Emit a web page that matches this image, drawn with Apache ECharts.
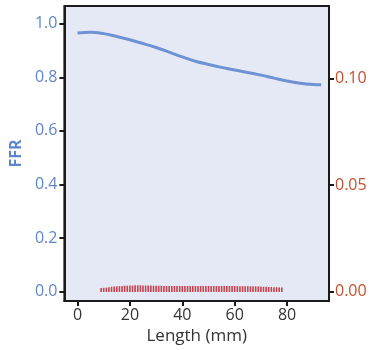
<!DOCTYPE html>
<html><head><meta charset="utf-8">
<script src="https://cdn.jsdelivr.net/npm/echarts@6/dist/echarts.min.js"></script>
<style>html,body{margin:0;padding:0;background:#fff}#c{width:377px;height:350px}</style>
</head><body><div id="c"></div>
<script>
const ffrX = [0,5,10,15,20,25,30,35,40,45,50,55,60,65,70,75,80,85,90,93];
const ffrY = [0.965,0.968,0.963,0.952,0.940,0.926,0.911,0.894,0.876,0.860,0.848,0.837,0.827,0.818,0.808,0.797,0.786,0.778,0.773,0.772];
const barX = [9,10,11,12,13,14,15,16,17,18,19,20,21,22,23,24,25,26,27,28,29,30,31,32,33,34,35,36,37,38,39,40,41,42,43,44,45,46,47,48,49,50,51,52,53,54,55,56,57,58,59,60,61,62,63,64,65,66,67,68,69,70,71,72,73,74,75,76,77,78];
const barY = [0.0018,0.0019,0.0020,0.0022,0.0024,0.0025,0.0026,0.0027,0.0028,0.0029,0.0029,0.0030,0.0030,0.0031,0.0031,0.0031,0.0030,0.0030,0.0030,0.0030,0.0029,0.0029,0.0029,0.0029,0.0028,0.0028,0.0028,0.0028,0.0028,0.0028,0.0028,0.0028,0.0028,0.0028,0.0028,0.0028,0.0028,0.0028,0.0028,0.0028,0.0028,0.0028,0.0028,0.0028,0.0028,0.0028,0.0028,0.0028,0.0028,0.0028,0.0028,0.0028,0.0027,0.0027,0.0027,0.0027,0.0027,0.0026,0.0026,0.0026,0.0026,0.0025,0.0024,0.0024,0.0023,0.0023,0.0022,0.0022,0.0021,0.0021];
const xTicks = [0,20,40,60,80];
const ffrTicks = [0,0.2,0.4,0.6,0.8,1.0];
const rTicks = [0,0.05,0.10];

const chart = echarts.init(document.getElementById('c'));
const font = 'Open Sans';
chart.setOption({
  animation:false,
  grid:{left:59,right:48,top:6,bottom:42,show:true,backgroundColor:'#e5e9f6',borderWidth:2,borderColor:'#1a1a1a'},
  xAxis:{type:'value',min:-5,max:96,
    name:'Length (mm)',nameLocation:'middle',nameGap:26,
    nameTextStyle:{color:'#333',fontSize:17,fontWeight:500,fontFamily:font},
    axisLine:{show:true,onZero:false,lineStyle:{color:'#1a1a1a',width:2}},
    axisTick:{show:true,customValues:xTicks,length:5,lineStyle:{color:'#1a1a1a',width:2}},
    axisLabel:{customValues:xTicks,color:'#333',fontSize:16,fontWeight:500,fontFamily:font,margin:6},
    splitLine:{show:false}},
  yAxis:[
    {type:'value',min:-0.035,max:1.066,position:'left',
      name:'FFR',nameLocation:'middle',nameGap:40,nameRotate:90,
      nameTextStyle:{color:'#5f86cc',fontSize:16,fontWeight:'bold',fontFamily:font},
      axisLine:{show:true,onZero:false,lineStyle:{color:'#1a1a1a',width:2}},
      axisTick:{show:true,customValues:ffrTicks,length:5,lineStyle:{color:'#1a1a1a',width:2}},
      axisLabel:{customValues:ffrTicks,color:'#5f86cc',fontSize:16,fontWeight:500,fontFamily:font,margin:7,formatter:v=>v.toFixed(1)},
      splitLine:{show:false}},
    {type:'value',min:-0.0043,max:0.1339,position:'right',
      axisLine:{show:true,onZero:false,lineStyle:{color:'#1a1a1a',width:2}},
      axisTick:{show:true,customValues:rTicks,length:5,lineStyle:{color:'#1a1a1a',width:2}},
      axisLabel:{customValues:rTicks,color:'#c4502f',fontSize:16,fontWeight:500,fontFamily:font,margin:6,formatter:v=>v.toFixed(2)},
      splitLine:{show:false}}
  ],
  series:[
    {type:'line',yAxisIndex:0,data:ffrX.map((x,i)=>[x,ffrY[i]]),smooth:0.4,showSymbol:false,
      lineStyle:{color:'#6e92d4',width:3}},
    {type:'bar',yAxisIndex:1,data:barX.map((x,i)=>[x,barY[i]]),barWidth:1.6,
      itemStyle:{color:'#c8414d'}}
  ]
});
</script></body></html>
